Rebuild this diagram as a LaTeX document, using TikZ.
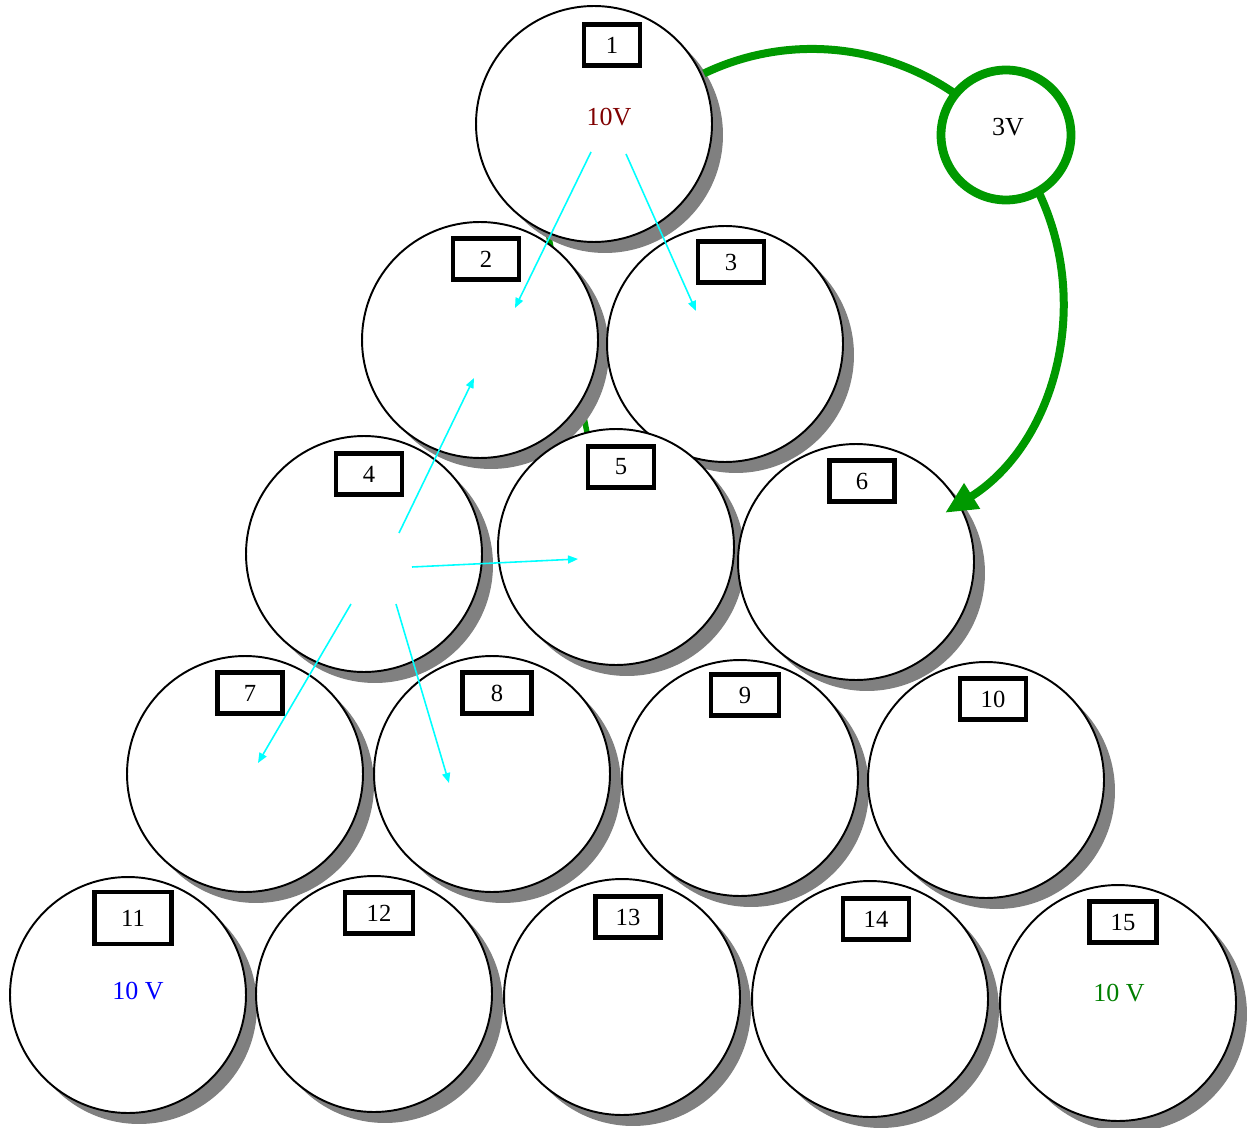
\documentclass[tikz,border=0pt]{standalone}
\usepackage{fontspec}
\setmainfont{Liberation Serif}
\usetikzlibrary{arrows.meta,shadows}
\definecolor{sgreen}{HTML}{009900}
\definecolor{dred}{HTML}{800000}
\definecolor{tgreen}{HTML}{008000}
\definecolor{acyan}{HTML}{00FFFF}
\begin{document}
\begin{tikzpicture}[x=0.02cm,y=-0.02cm,
  ball/.style={circle, draw=black, line width=1.1pt, fill=white, minimum size=4.72cm, inner sep=0pt,
    drop shadow={shadow xshift=0.22cm, shadow yshift=-0.22cm, fill=black!50, opacity=1}},
  numbox/.style={draw=black, line width=2.6pt, fill=white, minimum width=1.32cm, minimum height=0.82cm,
    inner sep=0pt, font=\fontsize{14}{16}\selectfont},
  vtxt/.style={font=\fontsize{14.8}{17}\selectfont},
  flow/.style={acyan, line width=0.9pt, -{Triangle[length=0.2cm,width=0.16cm]}},
  vsrc/.style={circle, draw=sgreen, line width=5pt, fill=white, minimum size=2.6cm, inner sep=0pt},
  gline/.style={sgreen, line width=0.16cm}]
\useasboundingbox (0,0) rectangle (1247,1128);
\fill[white] (0,0) rectangle (1247,1128);

% hidden green link behind circle 2
\coordinate (g1) at (530,140);
\coordinate (g2) at (606,530);
\draw[sgreen, line width=0.11cm] (g1) -- (g2);

% circles
\node[ball] (c1) at (594,124) {};
\node[ball] (c2) at (480,340) {};
\node[ball] (c3) at (725,344) {};
\node[ball] (c4) at (364,554) {};
\node[ball] (c5) at (616,547) {};
\node[ball] (c6) at (856,562) {};
\node[ball] (c7) at (245,774) {};
\node[ball] (c8) at (492,774) {};
\node[ball] (c9) at (740,778) {};
\node[ball] (c10) at (986,780) {};
\node[ball] (c11) at (128,995) {};
\node[ball] (c12) at (374,994) {};
\node[ball] (c13) at (622,997) {};
\node[ball] (c14) at (870,999) {};
\node[ball] (c15) at (1118,1003) {};

% number boxes
\node[numbox, minimum width=1.12cm] (b1) at (612,45) {1};
\node[numbox] (b2) at (486,259) {2};
\node[numbox] (b3) at (731,262) {3};
\node[numbox] (b4) at (369,474) {4};
\node[numbox] (b5) at (621,467) {5};
\node[numbox, minimum width=1.3cm] (b6) at (862,481) {6};
\node[numbox, minimum width=1.3cm] (b7) at (250,693) {7};
\node[numbox, minimum width=1.38cm] (b8) at (497,693) {8};
\node[numbox, minimum width=1.36cm] (b9) at (745,695) {9};
\node[numbox] (b10) at (993,699) {10};
\node[numbox, minimum width=1.54cm, minimum height=1.04cm] (b11) at (133,918) {11};
\node[numbox, minimum width=1.36cm] (b12) at (379,913) {12};
\node[numbox, minimum width=1.3cm] (b13) at (628,917) {13};
\node[numbox, minimum width=1.32cm] (b14) at (876,919) {14};
\node[numbox, minimum width=1.34cm] (b15) at (1123,922) {15};

% voltage texts
\node[vtxt, text=dred] (t1) at (609,117) {10V};
\node[vtxt, text=blue] (t11) at (138,991) {10 V};
\node[vtxt, text=tgreen] (t15) at (1119,993) {10 V};

% cyan flow arrows
\coordinate (a1s) at (591,152); \coordinate (a1e) at (515,308);
\coordinate (a2s) at (626,154); \coordinate (a2e) at (696,311);
\coordinate (a3s) at (399,533); \coordinate (a3e) at (474,378);
\coordinate (a4s) at (412,567); \coordinate (a4e) at (578,559);
\coordinate (a5s) at (351,604); \coordinate (a5e) at (258,763);
\coordinate (a6s) at (396,604); \coordinate (a6e) at (449,783);
\draw[flow] (a1s) -- (a1e);
\draw[flow] (a2s) -- (a2e);
\draw[flow] (a3s) -- (a3e);
\draw[flow] (a4s) -- (a4e);
\draw[flow] (a5s) -- (a5e);
\draw[flow] (a6s) -- (a6e);

% green arc through the 3V source
\coordinate (gc) at (812,300);
\draw[gline, -{Triangle[length=0.64cm,width=0.56cm]}] (gc) ++(-115.5:251) arc[start angle=-115.5, end angle=58, radius=251];
\node[vsrc] (v3) at (1006,135) {};
\node[vtxt] (v3t) at (1008,127) {3V};
\end{tikzpicture}
\end{document}
